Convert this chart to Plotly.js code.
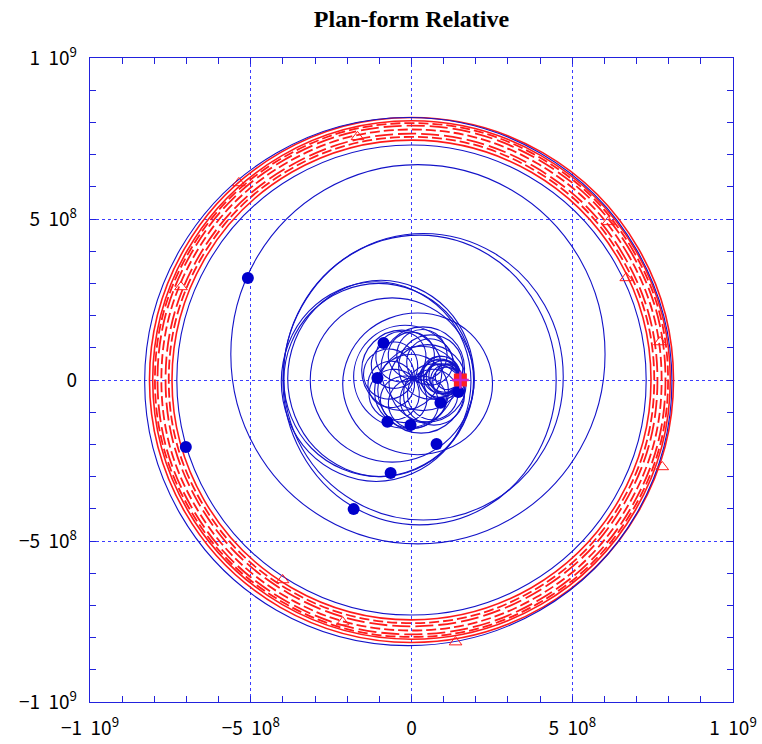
<!DOCTYPE html>
<html>
<head>
<meta charset="utf-8">
<script src="https://cdn.plot.ly/plotly-3.0.1.min.js"></script>
<style>html,body{margin:0;padding:0;background:#fff;}#chart{width:762px;height:744px;}</style>
</head>
<body>
<div id="chart"></div>
<script>
// All coordinates in units of 1e8 (axis labels show the real magnitude)
const tickVals = [-10, -5, 0, 5, 10];
const tickText = ['\u22121\u00a0\u00a010<sup>9</sup>', '\u22125\u00a0\u00a010<sup>8</sup>', '0', '5\u00a0\u00a010<sup>8</sup>', '1\u00a0\u00a010<sup>9</sup>'];

// central flower: petal loops that all pass through the common hub
const flowerX = [0.06,0.57,1.08,1.29,1.08,0.57,0.06,-0.15,
 0.06,0.66,1.06,1.03,0.59,0.00,-0.41,-0.38,
 0.06,0.55,0.71,0.46,-0.07,-0.55,-0.72,-0.46,
 0.06,0.42,0.35,-0.13,-0.72,-1.08,-1.01,-0.53,
 0.06,0.18,-0.12,-0.65,-1.12,-1.24,-0.94,-0.41,
 0.06,-0.07,-0.57,-1.16,-1.48,-1.35,-0.84,-0.26,
 0.06,-0.28,-0.82,-1.26,-1.33,-1.00,-0.45,-0.01,
 0.06,-0.47,-1.04,-1.32,-1.13,-0.61,-0.04,0.24,
 0.06,-0.49,-0.90,-0.92,-0.55,0.00,0.41,0.43,
 0.06,-0.49,-0.72,-0.49,0.06,0.61,0.84,0.61,
 0.06,-0.31,-0.29,0.12,0.67,1.04,1.02,0.61,
 0.06,-0.12,0.16,0.73,1.25,1.44,1.16,0.59,0.06,null];
const flowerY = [0.05,-0.16,0.05,0.56,1.07,1.28,1.07,0.56,
 0.05,0.08,0.52,1.11,1.52,1.49,1.05,0.45,
 0.05,0.30,0.83,1.32,1.48,1.23,0.70,0.22,
 0.05,0.52,1.12,1.48,1.40,0.93,0.34,-0.03,
 0.05,0.59,1.05,1.17,0.88,0.34,-0.13,-0.25,
 0.05,0.63,0.95,0.82,0.32,-0.26,-0.58,-0.45,
 0.05,0.49,0.56,0.22,-0.32,-0.76,-0.83,-0.50,
 0.05,0.33,0.15,-0.38,-0.95,-1.23,-1.05,-0.52,
 0.05,0.07,-0.30,-0.85,-1.25,-1.28,-0.91,-0.36,
 0.05,-0.18,-0.73,-1.28,-1.51,-1.28,-0.73,-0.18,
 0.05,-0.36,-0.91,-1.28,-1.25,-0.85,-0.30,0.07,
 0.05,-0.52,-1.05,-1.23,-0.95,-0.38,0.15,0.33,0.05,null];

// nested tight loops right of centre (continuous path)
const clusterX = [1.50,1.32,0.90,0.48,0.30,0.48,0.90,1.32,
 1.50,1.35,0.98,0.61,0.46,0.61,0.98,1.35,
 1.50,1.37,1.05,0.73,0.60,0.73,1.05,1.37,
 1.52,1.33,0.87,0.41,0.22,0.41,0.87,1.33,
 1.50,1.39,1.12,0.85,0.74,0.85,1.12,1.39,
 1.50,1.34,0.94,0.54,0.38,0.54,0.94,1.34,
 1.50,1.36,1.02,0.68,0.54,0.68,1.02,1.36,
 1.52,1.34,0.90,0.46,0.28,0.46,0.90,1.34,
 1.50,1.38,1.08,0.78,0.66,0.78,1.08,1.38,
 1.52,1.35,0.94,0.53,0.36,0.53,0.94,1.35,1.52,null];
const clusterY = [0.05,0.47,0.65,0.47,0.05,-0.37,-0.55,-0.37,
 0.08,0.45,0.60,0.45,0.08,-0.29,-0.44,-0.29,
 0.02,0.34,0.47,0.34,0.02,-0.30,-0.43,-0.30,
 0,0.44,0.62,0.44,0,-0.44,-0.62,-0.44,
 0.10,0.38,0.50,0.38,0.10,-0.18,-0.30,-0.18,
 -0.05,0.34,0.50,0.34,-0.05,-0.44,-0.60,-0.44,
 0.12,0.47,0.62,0.47,0.12,-0.23,-0.38,-0.23,
 0.10,0.55,0.74,0.55,0.10,-0.35,-0.54,-0.35,
 -0.04,0.27,0.40,0.27,-0.04,-0.35,-0.48,-0.35,
 0.15,0.56,0.73,0.56,0.15,-0.26,-0.43,-0.26,0.15,null];

// medium loops (each closed)
const midX = [1.65,1.27,0.35,-0.57,-0.95,-0.57,0.35,1.27,1.65,null,
 1.65,1.25,0.30,-0.65,-1.05,-0.65,0.30,1.25,1.65,null,
 1.40,0.93,-0.20,-1.33,-1.80,-1.33,-0.20,0.93,1.40,null,
 1.70,1.35,0.50,-0.35,-0.70,-0.35,0.50,1.35,1.70,null,
 0.95,0.58,-0.30,-1.18,-1.55,-1.18,-0.30,0.58,0.95,null,
 1.15,0.81,0,-0.81,-1.15,-0.81,0,0.81,1.15,null,
 1.60,1.31,0.60,-0.11,-0.40,-0.11,0.60,1.31,1.60,null,
 1.65,1.37,0.70,0.03,-0.25,0.03,0.70,1.37,1.65,null,
 2.52,1.84,0.19,-1.46,-2.14,-1.46,0.19,1.84,2.52,null,
 1.95,1.20,-0.60,-2.40,-3.15,-2.40,-0.60,1.20,1.95,null,
 1.93,1.07,-1.02,-3.11,-3.97,-3.11,-1.02,1.07,1.93,null,
 1.95,1.10,-0.95,-3.00,-3.85,-3.00,-0.95,1.10,1.95,null,
 1.85,0.99,-1.10,-3.19,-4.05,-3.19,-1.10,0.99,1.85,null];
const midY = [0.35,1.27,1.65,1.27,0.35,-0.57,-0.95,-0.57,0.35,null,
 -0.30,0.65,1.05,0.65,-0.30,-1.25,-1.65,-1.25,-0.30,null,
 0.10,1.23,1.70,1.23,0.10,-1.03,-1.50,-1.03,0.10,null,
 -0.10,0.75,1.10,0.75,-0.10,-0.95,-1.30,-0.95,-0.10,null,
 0.30,1.18,1.55,1.18,0.30,-0.58,-0.95,-0.58,0.30,null,
 -0.35,0.46,0.80,0.46,-0.35,-1.16,-1.50,-1.16,-0.35,null,
 0.40,1.11,1.40,1.11,0.40,-0.31,-0.60,-0.31,0.40,null,
 -0.45,0.22,0.50,0.22,-0.45,-1.12,-1.40,-1.12,-0.45,null,
 -0.12,1.44,2.08,1.44,-0.12,-1.68,-2.32,-1.68,-0.12,null,
 0,1.80,2.55,1.80,0,-1.80,-2.55,-1.80,0,null,
 0,2.12,3.00,2.12,0,-2.12,-3.00,-2.12,0,null,
 0.05,2.21,3.10,2.21,0.05,-2.11,-3.00,-2.11,0.05,null,
 -0.05,2.14,3.05,2.14,-0.05,-2.24,-3.15,-2.24,-0.05,null];

// large outer loops (each closed)
const outerX = [4.72,4.14,2.55,0.37,-1.81,-3.40,-3.98,-3.40,-1.81,0.37,2.55,4.14,4.72,null,
 4.50,3.93,2.38,0.25,-1.88,-3.43,-4.00,-3.43,-1.88,0.25,2.38,3.93,4.50,null,
 6.02,5.24,3.11,0.20,-2.71,-4.84,-5.62,-4.84,-2.71,0.20,3.11,5.24,6.02,null,
 7.30,6.32,3.65,0,-3.65,-6.32,-7.30,-6.32,-3.65,0,3.65,6.32,7.30,null,
 8.10,7.00,4.00,-0.10,-4.20,-7.20,-8.30,-7.20,-4.20,-0.10,4.00,7.00,8.10];
const outerY = [0.10,2.33,3.95,4.55,3.95,2.33,0.10,-2.13,-3.75,-4.35,-3.75,-2.13,0.10,null,
 0,2.25,3.90,4.50,3.90,2.25,0,-2.25,-3.90,-4.50,-3.90,-2.25,0,null,
 0.80,3.75,5.90,6.69,5.90,3.75,0.80,-2.15,-4.30,-5.09,-4.30,-2.15,0.80,null,
 0,3.65,6.32,7.30,6.32,3.65,0,-3.65,-6.32,-7.30,-6.32,-3.65,0,null,
 -0.05,4.05,7.05,8.15,7.05,4.05,-0.05,-4.15,-7.15,-8.25,-7.15,-4.15,-0.05];

// red ring: solid laps
const redSolidX = [8.15,7.06,4.08,0,-4.08,-7.06,-8.15,-7.06,-4.08,0,4.08,7.06,8.15,null,
 8.05,6.97,4.03,0,-4.03,-6.97,-8.05,-6.97,-4.03,0,4.03,6.97,8.05,null,
 7.45,6.45,3.73,0,-3.73,-6.45,-7.45,-6.45,-3.73,0,3.73,6.45,7.45];
const redSolidY = [0,4.08,7.06,8.15,7.06,4.08,0,-4.08,-7.06,-8.15,-7.06,-4.08,0,null,
 0,4.03,6.97,8.05,6.97,4.03,0,-4.03,-6.97,-8.05,-6.97,-4.03,0,null,
 0,3.73,6.45,7.45,6.45,3.73,0,-3.73,-6.45,-7.45,-6.45,-3.73,0];
// red ring: dashed laps (short dashes)
const redDashAX = [7.55,6.54,3.78,0,-3.78,-6.54,-7.55,-6.54,-3.78,0,3.78,6.54,7.55,null,
 7.78,6.74,3.89,0,-3.89,-6.74,-7.78,-6.74,-3.89,0,3.89,6.74,7.78,null,
 7.98,6.91,3.99,0,-3.99,-6.91,-7.98,-6.91,-3.99,0,3.99,6.91,7.98];
const redDashAY = [0,3.78,6.54,7.55,6.54,3.78,0,-3.78,-6.54,-7.55,-6.54,-3.78,0,null,
 0,3.89,6.74,7.78,6.74,3.89,0,-3.89,-6.74,-7.78,-6.74,-3.89,0,null,
 0,3.99,6.91,7.98,6.91,3.99,0,-3.99,-6.91,-7.98,-6.91,-3.99,0];
// red ring: dashed laps (long dashes)
const redDashBX = [7.65,6.62,3.83,0,-3.83,-6.62,-7.65,-6.62,-3.83,0,3.83,6.62,7.65,null,
 7.90,6.84,3.95,0,-3.95,-6.84,-7.90,-6.84,-3.95,0,3.95,6.84,7.90];
const redDashBY = [0,3.83,6.62,7.65,6.62,3.83,0,-3.83,-6.62,-7.65,-6.62,-3.83,0,null,
 0,3.95,6.84,7.90,6.84,3.95,0,-3.95,-6.84,-7.90,-6.84,-3.95,0];

// markers
const triX = [-1.68,-5.37,-7.17,6.12,6.68,7.73,7.80,-4.01,-2.14,1.37];
const triY = [7.55,6.12,2.89,4.91,3.17,1.18,-2.70,-6.21,-7.52,-8.14];
const dotX = [-5.09,-7.02,-1.80,-0.65,0.78,-0.03,-0.75,-1.06,-0.87,0.90,1.46];
const dotY = [3.17,-2.08,-4.01,-2.89,-1.99,-1.40,-1.30,0.06,1.15,-0.71,-0.37];
const startX = [1.52];
const startY = [0];

const blueX = flowerX.concat(clusterX, midX, outerX);
const blueY = flowerY.concat(clusterY, midY, outerY);

const BLUE = '#1212c8';
const RED = '#ff1a1a';

const traces = [
  {x: redSolidX, y: redSolidY, mode: 'lines', line: {color: RED, width: 1.6, shape: 'spline', smoothing: 1.1, simplify: false}, connectgaps: false},
  {x: redDashAX, y: redDashAY, mode: 'lines', line: {color: RED, width: 1.8, dash: '10px,4px', shape: 'spline', smoothing: 1.1, simplify: false}, connectgaps: false},
  {x: redDashBX, y: redDashBY, mode: 'lines', line: {color: RED, width: 1.8, dash: '18px,5px', shape: 'spline', smoothing: 1.1, simplify: false}, connectgaps: false},
  {x: blueX, y: blueY, mode: 'lines', line: {color: BLUE, width: 1.1, shape: 'spline', smoothing: 1.1, simplify: false}, connectgaps: false},
  {x: dotX, y: dotY, mode: 'markers', marker: {symbol: 'circle', size: 12, color: '#0000cc'}},
  {x: triX, y: triY, mode: 'markers', marker: {symbol: 'triangle-up-open', size: 11, color: RED, line: {color: RED, width: 1}}},
  {x: startX, y: startY, mode: 'markers', marker: {symbol: 'square', size: 13, color: '#ff2020', line: {width: 0}}},
  {x: startX, y: startY, mode: 'markers', marker: {symbol: 'cross-thin', size: 12, color: '#d020d0', line: {color: '#cc22cc', width: 2.5}}}
];

const axisCommon = {
  range: [-10, 10],
  tickmode: 'array',
  tickvals: tickVals,
  ticktext: tickText,
  ticks: 'inside',
  ticklen: 6,
  tickcolor: '#2222dd',
  showline: true,
  linecolor: '#2222dd',
  linewidth: 1.2,
  mirror: 'allticks',
  showgrid: true,
  gridcolor: '#3c3cff',
  griddash: 'dot',
  gridwidth: 1,
  zeroline: false,
  tickfont: {family: '"Noto Sans CJK JP", "Noto Sans", sans-serif', size: 19, color: '#000'},
  minor: {tickmode: 'linear', tick0: 0, dtick: 1, ticks: 'inside', ticklen: 6, tickcolor: '#2222dd', showgrid: false},
  fixedrange: true
};

const layout = {
  width: 762,
  height: 744,
  margin: {l: 90, r: 29, t: 58, b: 42},
  paper_bgcolor: '#fff',
  plot_bgcolor: '#fff',
  showlegend: false,
  title: {text: '<b>Plan-form Relative</b>', font: {family: '"Liberation Serif", "Times New Roman", serif', size: 24, color: '#000'}, xref: 'paper', x: 0.5, xanchor: 'center', yref: 'container', y: 0.975, yanchor: 'middle'},
  xaxis: Object.assign({}, axisCommon, {ticklabelstandoff: 9}),
  yaxis: Object.assign({}, axisCommon, {ticklabelstandoff: 8})
};

Plotly.newPlot('chart', traces, layout, {staticPlot: true, displayModeBar: false});
</script>
</body>
</html>
